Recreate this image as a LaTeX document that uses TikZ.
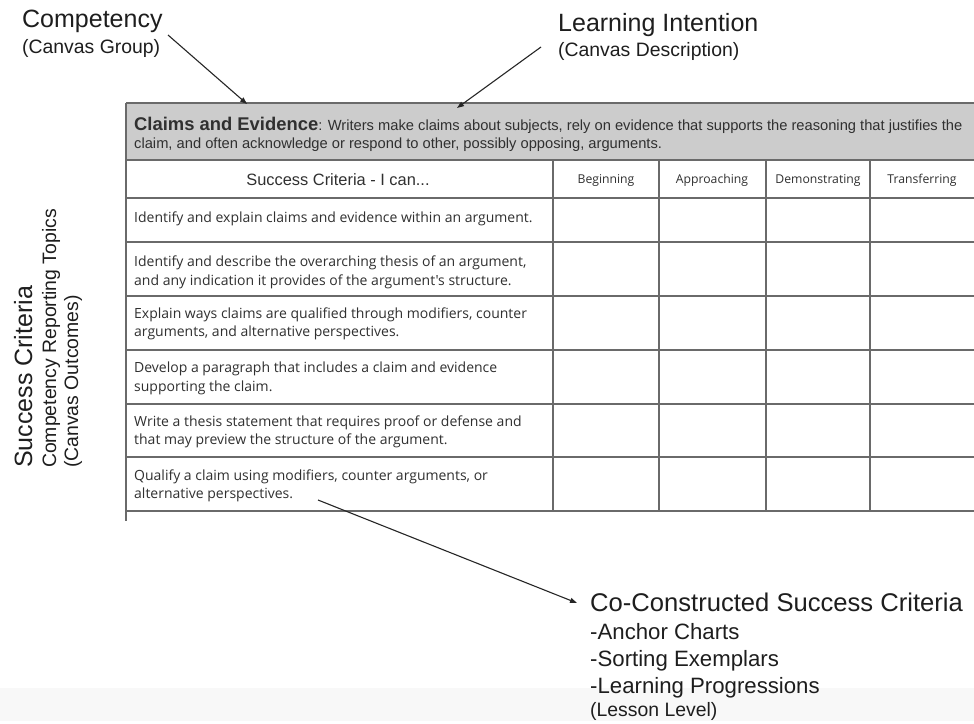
\documentclass[tikz,border=0pt]{standalone}
\usepackage{fontspec}
\setmainfont{Liberation Sans}
\newfontfamily\rowfont{Open Sans}
\usetikzlibrary{arrows.meta}
\definecolor{hdrgray}{HTML}{CCCCCC}
\definecolor{gridline}{HTML}{6A6A6A}
\definecolor{txt}{HTML}{1E1E1E}
\definecolor{celltxt}{HTML}{303030}
\definecolor{bandgray}{HTML}{F8F8F8}
\begin{document}
\begin{tikzpicture}[x=1pt,y=-1pt,
  grid/.style={draw=gridline,line width=1.3pt},
  title/.style={anchor=base west,inner sep=0pt,font=\fontsize{25}{30}\selectfont,text=txt},
  sub/.style={anchor=base west,inner sep=0pt,font=\fontsize{19.4}{23}\selectfont,text=txt},
  listitem/.style={anchor=base west,inner sep=0pt,font=\fontsize{22.2}{27}\selectfont,text=txt},
  cell/.style={anchor=base west,inner sep=0pt,align=left,font=\rowfont\fontsize{14}{18.5}\selectfont,text=celltxt},
  colhead/.style={anchor=base,inner sep=0pt,font=\rowfont\fontsize{12.2}{14}\selectfont,text=celltxt},
  pointer/.style={draw=black!85,line width=1.1pt,-{Triangle[length=7pt,width=5pt]}},
]
\useasboundingbox (0,0) rectangle (974,723);
\fill[white] (0,0) rectangle (974,723);
\fill[bandgray] (0,688) rectangle (974,721);

% table
\fill[hdrgray] (126,103) rectangle (974,160);
\foreach \yy in {103,160,198,242,296,350,404,457,511}
  \draw[grid] (126,\yy) -- (974,\yy);
\draw[grid] (126,103) -- (126,521);
\foreach \xx in {553,659,766,870}
  \draw[grid] (\xx,160) -- (\xx,511);

% header text
\node[anchor=base west,inner sep=0pt,text=celltxt] (hdrA) at (134,130)
  {{\fontsize{18.4}{18}\selectfont\bfseries Claims and Evidence}{\fontsize{14.7}{18}\selectfont: Writers make claims about subjects, rely on evidence that supports the reasoning that justifies the}};
\node[anchor=base west,inner sep=0pt,text=celltxt,font=\fontsize{14.7}{18}\selectfont] (hdrB) at (134,148)
  {claim, and often acknowledge or respond to other, possibly opposing, arguments.};

\node[anchor=base,inner sep=0pt,text=celltxt,font=\fontsize{16.4}{18}\selectfont] (scHead) at (338,185) {Success Criteria - I can...};
\node[colhead] (cBeg) at (606,183) {Beginning};
\node[colhead] (cApp) at (712,183) {Approaching};
\node[colhead] (cDem) at (818,183) {Demonstrating};
\node[colhead] (cTra) at (922,183) {Transferring};

\node[cell] (r1) at (134,222) {Identify and explain claims and evidence within an argument.};
\node[cell] (r2) at (134,285) {Identify and describe the overarching thesis of an argument,\\and any indication it provides of the argument's structure.};
\node[cell] (r3) at (134,336.5) {Explain ways claims are qualified through modifiers, counter\\arguments, and alternative perspectives.};
\node[cell] (r4) at (134,391) {Develop a paragraph that includes a claim and evidence\\supporting the claim.};
\node[cell] (r5) at (134,444.5) {Write a thesis statement that requires proof or defense and\\that may preview the structure of the argument.};
\node[cell] (r6) at (134,498.5) {Qualify a claim using modifiers, counter arguments, or\\alternative perspectives.};

% rotated left labels
\node[title,rotate=90] (scTitle) at (32,468) {Success Criteria};
\node[sub,rotate=90] (scSub) at (56,468) {Competency Reporting Topics};
\node[sub,rotate=90] (scSub2) at (78,468) {(Canvas Outcomes)};

% top labels
\node[title] (comp) at (22,27) {Competency};
\node[sub] (compSub) at (22,53) {(Canvas Group)};
\node[title] (li) at (558,31) {Learning Intention};
\node[sub] (liSub) at (558,56) {(Canvas Description)};

% bottom label
\node[title,font=\fontsize{25.6}{30}\selectfont] (cc) at (590,611) {Co-Constructed Success Criteria};
\node[listitem] (cc1) at (590,639) {-Anchor Charts};
\node[listitem] (cc2) at (590,666) {-Sorting Exemplars};
\node[listitem] (cc3) at (590,693) {-Learning Progressions};
\node[sub] (cc4) at (590,716) {(Lesson Level)};

% arrows
\coordinate (compStart) at (168,35);
\coordinate (compTip) at (247,104);
\coordinate (liStart) at (541,47);
\coordinate (liTip) at (457,108);
\coordinate (ccStart) at (318,500);
\coordinate (ccTip) at (577,603);
\draw[pointer] (compStart) -- (compTip);
\draw[pointer] (liStart) -- (liTip);
\draw[pointer] (ccStart) -- (ccTip);
\end{tikzpicture}
\end{document}
